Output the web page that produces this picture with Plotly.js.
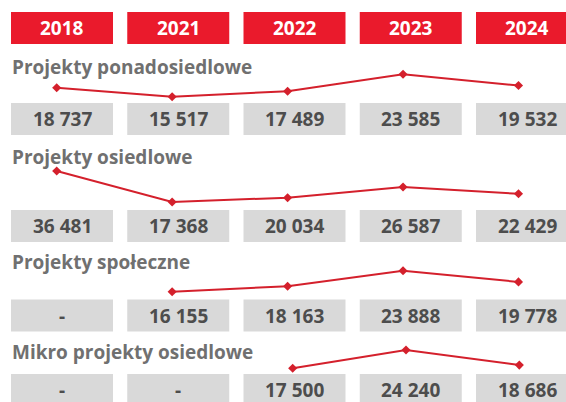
<!DOCTYPE html>
<html><head><meta charset="utf-8">
<script src="https://cdn.plot.ly/plotly-3.0.1.min.js"></script>
<style>html,body{margin:0;padding:0;background:#fff;overflow:hidden}#chart{width:566px;height:402px;}</style>
</head><body><div id="chart"></div>
<script>
// ---- data ----
const years = ['2018','2021','2022','2023','2024'];
const rowNames = ['Projekty ponadosiedlowe','Projekty osiedlowe','Projekty społeczne','Mikro projekty osiedlowe'];
const ponadosiedlowe = [18737,15517,17489,23585,19532];
const osiedlowe = [36481,17368,20034,26587,22429];
const spoleczne = [null,16155,18163,23888,19778];
const mikro = [null,null,17500,24240,18686];
const series = [ponadosiedlowe, osiedlowe, spoleczne, mikro];

// ---- layout constants (pixels) ----
const W = 566, H = 402;
const py = p => 1 - p / H;
const RED = '#ea1a2c', GREYBOX = '#d9d9d9', LINE = '#d4202c';
const FONT = 'Open Sans, Noto Sans, sans-serif';
const boxHalf = 0.4387;
const redBox = {top: 12, bottom: 44};
const rows = [
  {labelY: 67,  boxTop: 103, yr: [-94391, 50329],  xa: 'x2'},
  {labelY: 157, boxTop: 210, yr: [-105932, 141901], xa: 'x2'},
  {labelY: 262, boxTop: 299.5, yr: [-24656, 124084], xa: 'x2'},
  {labelY: 352, boxTop: 374, yr: [5098, 153034],  xa: 'x3'}
];
const boxH = 32;
const fmt = v => v == null ? '-' : String(v).replace(/\B(?=(\d{3})+(?!\d))/g, ' ');

const shapes = [], annotations = [], traces = [];
years.forEach((y, i) => {
  shapes.push({type:'rect', xref:'x', yref:'paper', x0:i-boxHalf, x1:i+boxHalf,
    y0:py(redBox.bottom), y1:py(redBox.top), fillcolor:RED, line:{width:0}, layer:'below'});
  annotations.push({xref:'x', yref:'paper', x:i, y:py((redBox.top+redBox.bottom)/2),
    text:'<b>'+y+'</b>', showarrow:false, xanchor:'center', yanchor:'middle',
    font:{family:FONT, size:19, color:'#ffffff'}});
});
rows.forEach((r, k) => {
  annotations.push({xref:'paper', yref:'paper', x:10/W, y:py(r.labelY), text:'<b>'+rowNames[k]+'</b>',
    showarrow:false, xanchor:'left', yanchor:'middle', font:{family:FONT, size:19, color:'#707070'}});
  years.forEach((y, i) => {
    shapes.push({type:'rect', xref:'x', yref:'paper', x0:i-boxHalf, x1:i+boxHalf,
      y0:py(r.boxTop+boxH), y1:py(r.boxTop), fillcolor:GREYBOX, line:{width:0}, layer:'below'});
    annotations.push({xref:'x', yref:'paper', x:i, y:py(r.boxTop+boxH/2), text:'<b>'+fmt(series[k][i])+'</b>',
      showarrow:false, xanchor:'center', yanchor:'middle', font:{family:FONT, size:19, color:'#4d4d4d'}});
  });
  traces.push({type:'scatter', mode:'lines+markers', x:years, y:series[k], xaxis:r.xa,
    yaxis:'y'+(k+2), line:{color:LINE, width:2}, marker:{symbol:'diamond', size:7, color:LINE},
    connectgaps:false, hoverinfo:'skip'});
});

const hidden = {visible:false, fixedrange:true, showgrid:false, zeroline:false};
const layout = {
  width:W, height:H, margin:{l:0,r:0,t:0,b:0}, paper_bgcolor:'#fff', plot_bgcolor:'rgba(0,0,0,0)',
  showlegend:false,
  xaxis:Object.assign({type:'category', categoryarray:years, range:[-0.5333, 4.3355], domain:[0,1]}, hidden),
  xaxis2:Object.assign({type:'category', categoryarray:years, range:[-0.4911, 4.4115], overlaying:'x', anchor:'y'}, hidden),
  xaxis3:Object.assign({type:'category', categoryarray:years, range:[-0.583, 4.412], overlaying:'x', anchor:'y'}, hidden),
  yaxis:Object.assign({range:[0,1], domain:[0,1]}, hidden),
  shapes, annotations
};
rows.forEach((r, k) => {
  layout['yaxis'+(k+2)] = Object.assign({range:r.yr, overlaying:'y', anchor:'x'}, hidden);
});
// dummy trace to anchor the base axes
traces.unshift({type:'scatter', x:[], y:[], xaxis:'x', yaxis:'y', hoverinfo:'skip'});
Plotly.newPlot('chart', traces, layout, {displayModeBar:false, staticPlot:true});
</script>
</body></html>
